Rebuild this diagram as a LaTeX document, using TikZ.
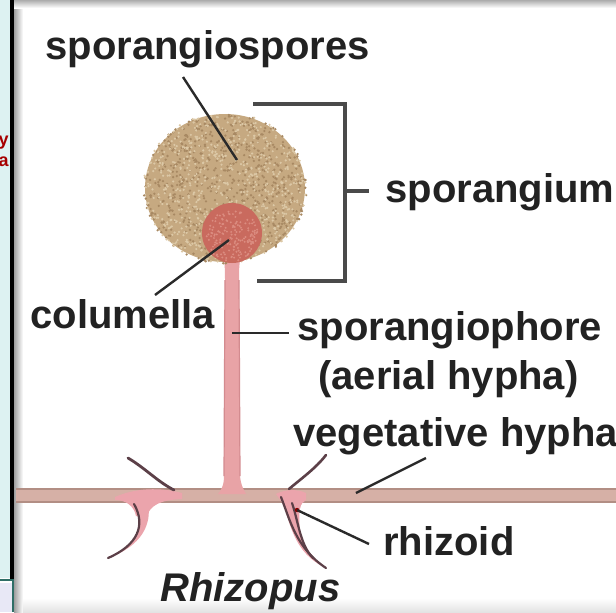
\documentclass[tikz,border=0pt]{standalone}
\usepackage{fontspec}
\setmainfont{Liberation Sans}
\usetikzlibrary{positioning}

\definecolor{labeltext}{HTML}{222222}
\definecolor{leadergray}{HTML}{2A2A2A}
\definecolor{bracketgray}{HTML}{4A4A4A}
\definecolor{sporetan}{HTML}{C6A981}
\definecolor{sporedark}{HTML}{A88963}
\definecolor{sporelight}{HTML}{DCC8A6}
\definecolor{colred}{HTML}{C96A5E}
\definecolor{collight}{HTML}{DB8C80}
\definecolor{stalkpink}{HTML}{E8A3A6}
\definecolor{stalkedge}{HTML}{D38B8F}
\definecolor{hyphatan}{HTML}{D6B0A6}
\definecolor{hyphaedge}{HTML}{B28E84}
\definecolor{rhizopink}{HTML}{EBA4AC}
\definecolor{branchdark}{HTML}{5C4048}
\definecolor{stripcyan}{HTML}{DDF2F2}
\definecolor{boxlav}{HTML}{E8E8F6}
\definecolor{frameteal}{HTML}{2E6E66}

\begin{document}
\begin{tikzpicture}[x=0.5pt,y=-0.5pt,
lbl/.style={anchor=base west, inner sep=0pt, text=labeltext, font=\fontsize{20}{24}\selectfont\bfseries},
leader/.style={draw=leadergray, line width=1.2pt},
bracket/.style={draw=bracketgray, line width=1.8pt},
rhizo/.style={fill=rhizopink},
branch/.style={draw=branchdark, line width=1.1pt, line cap=round}
]
  \useasboundingbox (0,0) rectangle (616,612);
  \fill[white] (0,0) rectangle (616,612);

  % panel on the left and frame shadows
  \fill[stripcyan] (0,0) rectangle (12,578);
  \fill[boxlav] (0,583) rectangle (12,612);
  \begin{scope}
    \clip (0,0) rectangle (11,578);
    \node[anchor=base east, inner sep=0pt, text=red!65!black, font=\fontsize{9}{10}\selectfont\bfseries] (cut-y) at (9,145) {y};
    \node[anchor=base east, inner sep=0pt, text=red!65!black, font=\fontsize{9}{10}\selectfont\bfseries] (cut-a) at (9,166) {a};
  \end{scope}
  \draw[black, line width=1.6pt] (12,0) -- (12,579);
  \draw[frameteal, line width=1.2pt] (0,580) -- (13,580) -- (13,612);
  \shade[left color=gray!75, right color=white] (14,0) rectangle (23,612);
  \shade[top color=gray!65, bottom color=white] (14,0) rectangle (616,8);
  \shade[top color=white, bottom color=gray!22] (23,598) rectangle (616,612);

  % vegetative hypha
  \fill[hyphatan] (16,489) rectangle (616,502);
  \draw[hyphaedge, line width=0.8pt] (16,489) -- (616,489) (16,502) -- (616,502);

  % rhizoids on the left
  \fill[rhizo] (115,497) .. controls (135,488) and (160,487) .. (182,493)
    -- (182,499) .. controls (160,500) and (150,505) .. (146,518)
    -- (136,516) .. controls (134,506) and (126,500) .. (115,500) -- cycle;
  \fill[rhizo] (134,503) .. controls (146,525) and (138,545) .. (108,558)
    .. controls (142,546) and (152,524) .. (148,503) -- cycle;
  \draw[branch] (134,504) .. controls (146,525) and (138,545) .. (108,558);
  \draw[branch, line width=1.4pt] (128,458) .. controls (145,468) and (158,482) .. (174,490);

  % rhizoids on the right
  \fill[rhizo] (276,494) .. controls (285,489) and (298,489) .. (306,493)
    -- (306,500) .. controls (300,503) and (298,510) .. (300,530)
    .. controls (304,548) and (312,558) .. (326,568)
    .. controls (300,556) and (292,535) .. (284,505) -- cycle;
  \draw[branch] (281,497) .. controls (290,520) and (296,548) .. (326,568);
  \draw[branch] (292,503) .. controls (298,520) and (300,545) .. (313,558);
  \draw[branch, line width=1.3pt] (289,489) .. controls (302,478) and (316,468) .. (326,455);
  \fill[red!55!black] (297,510) circle[radius=2.2];

  % sporangiophore
  \fill[stalkpink] (222,250) -- (242,250) .. controls (239,262) and (239,270) .. (239,280)
    -- (240,476) .. controls (241,486) and (244,490) .. (246,494)
    -- (218,494) .. controls (221,490) and (224,486) .. (224,476)
    -- (225,280) .. controls (225,270) and (225,262) .. (222,250) -- cycle;
  \draw[stalkedge, line width=0.6pt] (225,280) -- (224,476) (239,280) -- (240,476);

  % sporangium with spores
  \fill[sporetan] (225,188) ellipse[x radius=80, y radius=74];
  \pgfmathsetseed{42}
  \foreach \i in {1,...,700}{
    \pgfmathsetmacro\ang{360*rnd}
    \pgfmathsetmacro\rad{1.02*sqrt(rnd)}
    \fill[sporedark] ({225+80*\rad*cos(\ang)},{188+74*\rad*sin(\ang)}) circle[radius=1.3];
  }
  \foreach \i in {1,...,700}{
    \pgfmathsetmacro\ang{360*rnd}
    \pgfmathsetmacro\rad{1.02*sqrt(rnd)}
    \fill[sporelight] ({225+80*\rad*cos(\ang)},{188+74*\rad*sin(\ang)}) circle[radius=1.2];
  }

  % columella
  \fill[colred] (232,233) circle[radius=30];
  \foreach \i in {1,...,160}{
    \pgfmathsetmacro\ang{360*rnd}
    \pgfmathsetmacro\rad{0.9*sqrt(rnd)}
    \fill[collight] ({232+30*\rad*cos(\ang)},{236+28*\rad*sin(\ang)}) circle[radius=1.1];
  }

  % bracket round the sporangium
  \draw[bracket] (253,104) -- (345,104) -- (345,281) -- (257,281);
  \coordinate (brk-mid) at (345,191);

  % labels
  \node[lbl] (spores) at (45,59) {sporangiospores};
  \node[lbl] (sporangium) at (385,202) {sporangium};
  \node[lbl] (columella) at (30,328) {columella};
  \node[lbl] (phore) at (297,340) {sporangiophore};
  \node[lbl] (aerial) at (318,389) {(aerial hypha)};
  \node[lbl] (vegetative) at (293,446) {vegetative hypha};
  \node[lbl] (rhizoid) at (383,555) {rhizoid};
  \node[lbl, font=\fontsize{20}{24}\selectfont\bfseries\itshape] (genus) at (160,601) {Rhizopus};

  % leader lines
  \coordinate (spores-from) at (183,77);
  \coordinate (spores-to) at (237,160);
  \coordinate (col-from) at (155,295);
  \coordinate (col-to) at (229,240);
  \coordinate (phore-from) at (232,333);
  \coordinate (phore-to) at (289,333);
  \coordinate (veg-from) at (426,458);
  \coordinate (veg-to) at (356,493);
  \coordinate (rhiz-from) at (297,510);
  \coordinate (rhiz-to) at (369,544);
  \coordinate (brk-to) at (369,191);
  \draw[leader] (spores-from) -- (spores-to);
  \draw[leader] (col-from) -- (col-to);
  \draw[leader] (phore-from) -- (phore-to);
  \draw[leader] (veg-from) -- (veg-to);
  \draw[leader] (rhiz-from) -- (rhiz-to);
  \draw[bracket] (brk-mid) -- (brk-to);
\end{tikzpicture}
\end{document}
